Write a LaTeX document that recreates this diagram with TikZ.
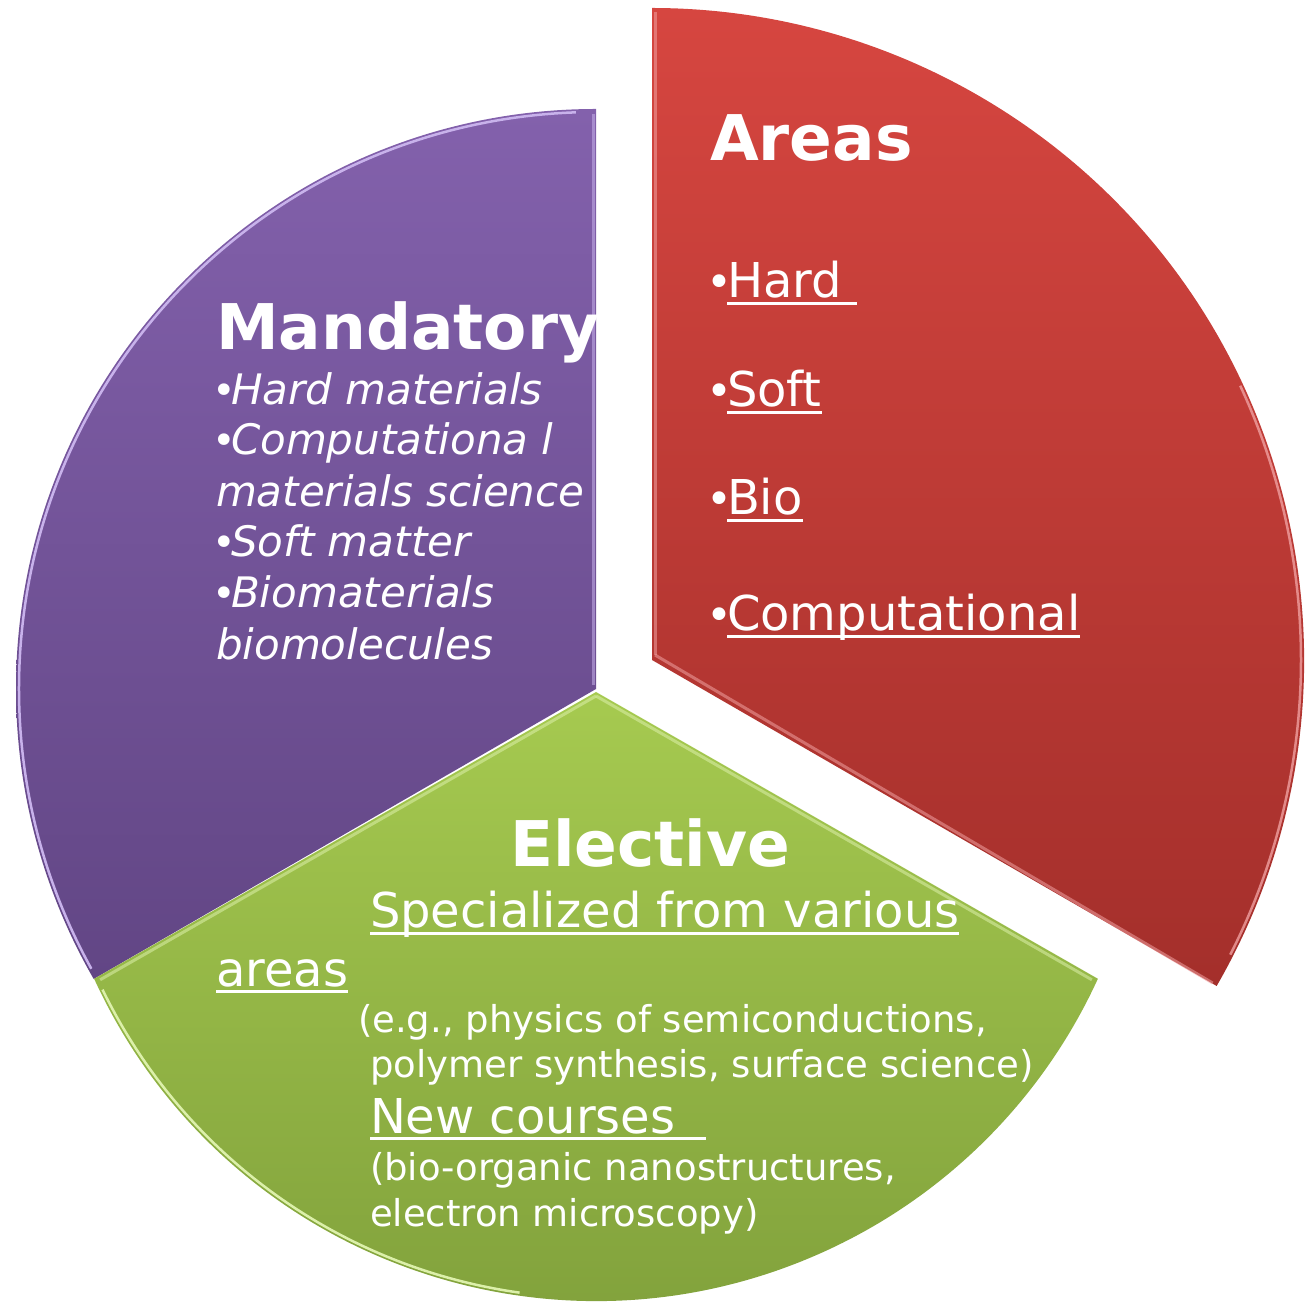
\documentclass[tikz,border=0pt]{standalone}
\usepackage{fontspec}
\usetikzlibrary{calc}
\setmainfont{DejaVu Sans}
\newcommand\myul[1]{\setbox0=\hbox{#1}\rlap{\rule[-0.14em]{\wd0}{0.065em}}\box0}
\newcommand\mybul[2]{\makebox[#1][l]{\hspace*{-4pt}\fontsize{#2}{#2}\selectfont\upshape •}}
\definecolor{pTop}{RGB}{131,97,172}
\definecolor{pBot}{RGB}{98,70,133}
\definecolor{pHi}{RGB}{200,178,235}
\definecolor{rTop}{RGB}{214,70,64}
\definecolor{rBot}{RGB}{164,47,43}
\definecolor{rHi}{RGB}{240,160,160}
\definecolor{gTop}{RGB}{166,202,80}
\definecolor{gBot}{RGB}{126,158,58}
\definecolor{gHi}{RGB}{220,240,170}
\begin{document}
\begin{tikzpicture}[x=1pt,y=1pt,
  txt/.style={anchor=base west, inner sep=0pt, outer sep=0pt, text=white},
  head/.style={txt, font=\fontsize{63}{63}\selectfont\bfseries},
  itm/.style={txt, font=\fontsize{42}{42}\selectfont\itshape},
  aitm/.style={txt, font=\fontsize{48}{48}\selectfont},
  small/.style={txt, font=\fontsize{37}{37}\selectfont},
  edge/.style={line width=2.5pt},
  bevel/.style={line width=3pt, opacity=0.55}]
\useasboundingbox (0,0) rectangle (1306,1302);
% purple slice
\coordinate (pc) at (596,613);
\shade[top color=pTop,bottom color=pBot] (pc) -- ++(90:580) arc[start angle=90,end angle=210,radius=580] -- cycle;
\draw[pHi,edge] (pc) ++(92:577) arc[start angle=92,end angle=209,radius=577];
\draw[pHi,bevel] (593,617) -- (593,1188);
% green slice
\coordinate (gc) at (596,610);
\coordinate (ga) at (596,553);
\coordinate (gl) at ($(ga)+(204.6:552)$);
\coordinate (gr) at ($(ga)+(335.4:552)$);
\shade[top color=gTop,bottom color=gBot] (gc) -- (gl) arc[start angle=204.6,end angle=335.4,radius=552] -- cycle;
\draw[gHi,bevel] ($(gc)+(0,-4)$) -- ($(gl)+(6,-1)$);
\draw[gHi,bevel] ($(gc)+(0,-4)$) -- ($(gr)+(-6,-1)$);
\draw[gHi,edge] ($(ga)+(206:549)$) arc[start angle=206,end angle=262,radius=549];
% red slice
\coordinate (rc) at (652,642);
\coordinate (rl) at ($(rc)+(-30:652)$);
\shade[top color=rTop,bottom color=rBot] (rc) -- (rl) arc[start angle=-30,end angle=90,radius=652] -- cycle;
\draw[rHi,bevel] ($(rc)+(3,5)$) -- ($(rl)+(-4,3)$);
\draw[rHi,bevel] ($(rc)+(3,5)$) -- (655,1290);
\draw[rHi,edge,opacity=0.8] ($(rc)+(-27:649)$) arc[start angle=-27,end angle=25,radius=649];
% Mandatory
\node[head] (mh) at (216,952) {Mandatory};
\node[itm] (m1) at (216,897) {\mybul{15pt}{40}Hard materials};
\node[itm] (m2) at (216,847) {\mybul{15pt}{40}Computationa l};
\node[itm] (m3) at (216,795) {materials science};
\node[itm] (m4) at (216,745) {\mybul{15pt}{40}Soft matter};
\node[itm] (m5) at (216,694) {\mybul{15pt}{40}Biomaterials};
\node[itm] (m6) at (216,642) {biomolecules};
% Areas
\node[head] (ah) at (710,1141) {Areas};
\node[aitm] (a1) at (710,1004) {\mybul{17pt}{44}\myul{Hard\ }};
\node[aitm] (a2) at (710,895) {\mybul{17pt}{44}\myul{Soft}};
\node[aitm] (a3) at (710,787) {\mybul{17pt}{44}\myul{Bio}};
\node[aitm] (a4) at (710,671) {\mybul{17pt}{44}\myul{Computational}};
% Elective
\node[head] (eh) at (510,435) {Elective};
\node[aitm] (e1) at (370,374) {\myul{Specialized from various}};
\node[aitm] (e2) at (216,316) {\myul{areas}};
\node[small] (e3) at (358,270) {(e.g., physics of semiconductions,};
\node[small] (e4) at (370,225) {polymer synthesis, surface science)};
\node[aitm] (e5) at (370,169) {\myul{New courses\ \ }};
\node[small] (e6) at (370,122) {(bio-organic nanostructures,};
\node[small] (e7) at (370,76) {electron microscopy)};
\end{tikzpicture}
\end{document}
